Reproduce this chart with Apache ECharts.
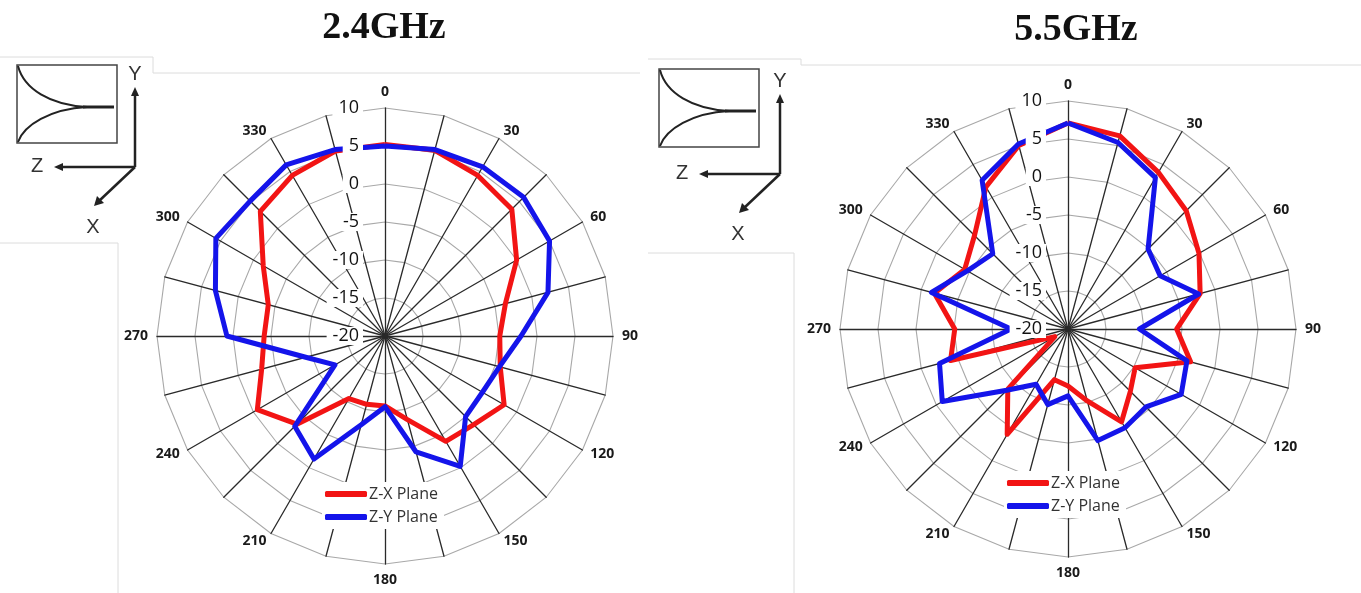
<!DOCTYPE html>
<html>
<head>
<meta charset="utf-8">
<title>2.4GHz / 5.5GHz radiation pattern</title>
<script src="https://cdn.jsdelivr.net/npm/echarts@6.0.0/dist/echarts.min.js"></script>
<style>
  html, body { margin: 0; padding: 0; background: #fff; }
  #chart { width: 1361px; height: 593px; }
</style>
</head>
<body>
<div id="chart"></div>
<script>
// angles in degrees, clockwise from top
const angles = [0, 15, 30, 45, 60, 75, 90, 105, 120, 135, 150, 165, 180, 195, 210, 225, 240, 255, 270, 285, 300, 315, 330, 345];
const radialTicks = [-20, -15, -10, -5, 0, 5, 10];
const seriesNames = ['Z-X Plane', 'Z-Y Plane'];

// 2.4GHz (dB)
const zx24 = [5.2, 5.3, 4.4, 3.6, 0.0, -3.6, -4.9, -4.3, -1.9, -3.5, -4.0, -8.6, -10.8, -10.7, -10.5, -3.6, -0.6, -3.2, -4.1, -4.1, -1.5, 3.2, 4.4, 5.2];
const zy24 = [5.0, 5.4, 5.7, 5.8, 5.0, 2.2, -2.1, -4.4, -5.2, -5.0, -0.2, -4.2, -10.7, -7.9, -1.3, -3.2, -12.4, -9.2, 0.8, 3.1, 5.7, 5.1, 6.0, 5.4];

// 5.5GHz (dB)
const zx55 = [7.1, 6.3, 3.8, 2.0, -0.1, -2.0, -5.7, -3.3, -9.8, -8.4, -5.9, -10.2, -12.5, -13.1, -4.0, -8.8, -18.0, -4.0, -5.1, -1.8, -4.3, -2.6, 1.6, 5.0];
const zy55 = [7.1, 5.4, 3.0, -5.1, -6.0, -2.2, -10.6, -3.8, -2.8, -5.5, -5.0, -4.8, -11.2, -9.7, -11.6, -8.6, -0.9, -2.5, -12.5, -1.4, -4.7, -6.0, 2.6, 5.2];

const RED = '#f21414';
const BLUE = '#1414ea';
const rMin = radialTicks[0];
const rMax = radialTicks[radialTicks.length - 1];

// radar goes counter-clockwise, so walk the angles backwards: 0, 345, 330 ... 15
const order = angles.map((a, i) => (angles.length - i) % angles.length);
const reorder = arr => order.map(i => arr[i]);

function indicators(withLabel) {
  return order.map((i, k) => {
    const a = angles[i];
    const ind = { name: a % 30 === 0 ? String(a) : '', min: rMin, max: rMax };
    if (withLabel && k === 0) {
      ind.axisLabel = {
        show: true, fontSize: 18, color: '#111', fontFamily: 'Open Sans',
        backgroundColor: '#fff', padding: [0, 4, 0, 6], margin: 22
      };
    }
    return ind;
  });
}

function gridRadar(center) {
  return {
    center: center, radius: 228, startAngle: 90, shape: 'polygon',
    splitNumber: radialTicks.length - 1, z: 0,
    indicator: indicators(false),
    axisName: { color: '#1a1a1a', fontSize: 14, fontWeight: 'bold', fontFamily: 'Open Sans' },
    nameGap: 9,
    axisLine: { lineStyle: { color: '#2a2a2a', width: 1.3 } },
    splitLine: { lineStyle: { color: '#a8a8a8', width: 1.1 } },
    splitArea: { show: false },
    axisTick: { show: false },
    axisLabel: { show: false }
  };
}

// overlay radar carrying only the dB labels, above the data lines
function labelRadar(center) {
  return {
    center: center, radius: 228, startAngle: 90, shape: 'polygon',
    splitNumber: radialTicks.length - 1, z: 5,
    indicator: indicators(true),
    axisName: { show: false },
    axisLine: { show: false },
    splitLine: { show: false },
    splitArea: { show: false },
    axisTick: { show: false },
    axisLabel: { show: false }
  };
}

function radarSeries(radarIndex, a, b) {
  return {
    type: 'radar', radarIndex: radarIndex, symbol: 'none', z: 2,
    silent: true,
    data: [
      { name: seriesNames[0], value: reorder(a), lineStyle: { color: RED, width: 5 }, itemStyle: { color: RED } },
      { name: seriesNames[1], value: reorder(b), lineStyle: { color: BLUE, width: 5 }, itemStyle: { color: BLUE } }
    ]
  };
}

function legendAt(left, top) {
  return {
    data: seriesNames, orient: 'vertical', left: left, top: top,
    icon: 'roundRect', itemWidth: 42, itemHeight: 6, itemGap: 5,
    backgroundColor: '#fff', padding: [3, 6, 3, 3], selectedMode: false,
    textStyle: { fontSize: 16, color: '#333', fontFamily: 'Open Sans', lineHeight: 18, padding: [0, 0, 0, -3] }
  };
}

// small antenna + axes sketch in the corner of each panel
function inset(ox, oy, ax, ay) {
  const k = '#222';
  return [
    { type: 'rect', shape: { x: ox, y: oy, width: 100, height: 78 }, style: { fill: null, stroke: '#444', lineWidth: 1.5 } },
    { type: 'bezierCurve', shape: { x1: ox + 1, y1: oy + 1, cpx1: ox + 7, cpy1: oy + 24, cpx2: ox + 33, cpy2: oy + 40, x2: ox + 70, y2: oy + 42 }, style: { stroke: k, lineWidth: 2, fill: null } },
    { type: 'bezierCurve', shape: { x1: ox + 1, y1: oy + 77, cpx1: ox + 7, cpy1: oy + 60, cpx2: ox + 33, cpy2: oy + 44, x2: ox + 70, y2: oy + 42 }, style: { stroke: k, lineWidth: 2, fill: null } },
    { type: 'line', shape: { x1: ox + 66, y1: oy + 42, x2: ox + 97, y2: oy + 42 }, style: { stroke: k, lineWidth: 3 } },
    // Y
    { type: 'line', shape: { x1: ax, y1: ay, x2: ax, y2: ay - 74 }, style: { stroke: k, lineWidth: 2.5 } },
    { type: 'polygon', shape: { points: [[ax, ay - 80], [ax - 4, ay - 71], [ax + 4, ay - 71]] }, style: { fill: k } },
    { type: 'text', x: ax, y: ay - 93, style: { text: 'Y', font: '20px "Liberation Sans"', fill: '#333', textAlign: 'center', textVerticalAlign: 'middle' } },
    // Z
    { type: 'line', shape: { x1: ax, y1: ay, x2: ax - 74, y2: ay }, style: { stroke: k, lineWidth: 2.5 } },
    { type: 'polygon', shape: { points: [[ax - 81, ay], [ax - 72, ay - 4], [ax - 72, ay + 4]] }, style: { fill: k } },
    { type: 'text', x: ax - 98, y: ay - 1, style: { text: 'Z', font: '20px "Liberation Sans"', fill: '#333', textAlign: 'center', textVerticalAlign: 'middle' } },
    // X
    { type: 'line', shape: { x1: ax, y1: ay, x2: ax - 36, y2: ay + 34 }, style: { stroke: k, lineWidth: 2.5 } },
    { type: 'polygon', shape: { points: [[ax - 41, ay + 39], [ax - 38, ay + 29], [ax - 31, ay + 36]] }, style: { fill: k } },
    { type: 'text', x: ax - 42, y: ay + 60, style: { text: 'X', font: '20px "Liberation Sans"', fill: '#333', textAlign: 'center', textVerticalAlign: 'middle' } }
  ];
}

function frameLine(pts) {
  return { type: 'polyline', shape: { points: pts }, style: { stroke: '#dcdcdc', lineWidth: 1, fill: null }, z: -1 };
}

const chart = echarts.init(document.getElementById('chart'));

const option = {
  backgroundColor: '#fff',
  animation: false,
  radar: [gridRadar([385, 336]), gridRadar([1068, 329]), labelRadar([385, 336]), labelRadar([1068, 329])],
  legend: [legendAt(322, 482), legendAt(1004, 471)],
  series: [radarSeries(0, zx24, zy24), radarSeries(1, zx55, zy55)],
  graphic: [
    { type: 'text', x: 384, y: 28, style: { text: '2.4GHz', font: 'bold 38px "Liberation Serif"', fill: '#111', textAlign: 'center', textVerticalAlign: 'middle' } },
    { type: 'text', x: 1076, y: 30, style: { text: '5.5GHz', font: 'bold 38px "Liberation Serif"', fill: '#111', textAlign: 'center', textVerticalAlign: 'middle' } },
    frameLine([[0, 57], [153, 57], [153, 73], [640, 73]]),
    frameLine([[0, 243], [118, 243], [118, 593]]),
    frameLine([[648, 59], [801, 59], [801, 65], [1361, 65]]),
    frameLine([[648, 253], [794, 253], [794, 593]])
  ].concat(inset(17, 65, 135, 167), inset(659, 69, 780, 174))
};

chart.setOption(option);
</script>
</body>
</html>
